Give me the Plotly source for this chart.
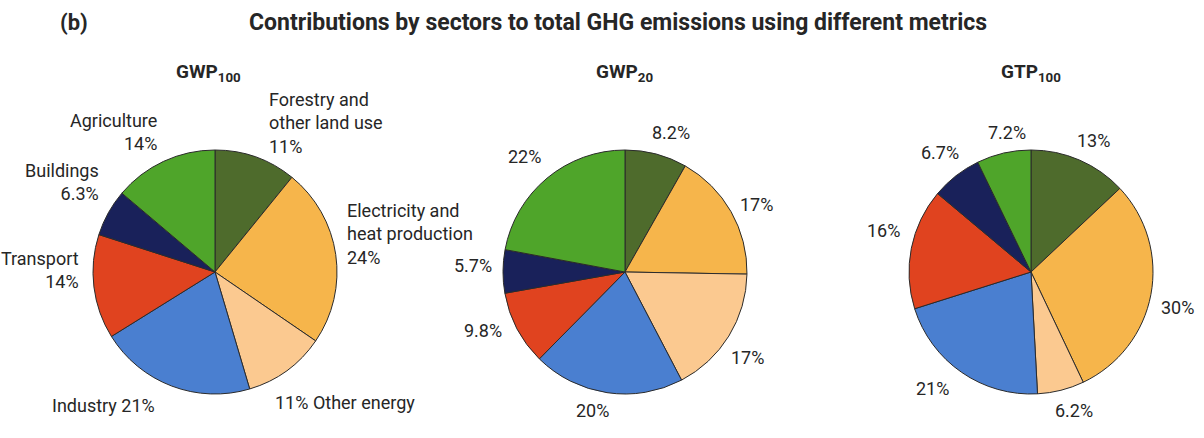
import plotly.graph_objects as go

W, H = 1204, 438

sectors = ["Forestry and other land use", "Electricity and heat production", "Other energy",
           "Industry", "Transport", "Buildings", "Agriculture"]
colors = ["#4e6b2c", "#f6b54b", "#fbc990", "#4a7fd0", "#e0431f", "#19215a", "#4fa52a"]

gwp100 = [11, 24, 11, 21, 14, 6.3, 14]
gwp20 = [8.2, 17, 17, 20, 9.8, 5.7, 22]
gtp100 = [13, 30, 6.2, 21, 16, 6.7, 7.2]

metrics = ["GWP<sub>100</sub>", "GWP<sub>20</sub>", "GTP<sub>100</sub>"]
main_title = "Contributions by sectors to total GHG emissions using different metrics"

# pie centres in pixels and radius
centres = [(215, 272), (625, 272), (1031, 272)]
R = 122

fig = go.Figure()
for vals, (cx, cy) in zip([gwp100, gwp20, gtp100], centres):
    fig.add_trace(go.Pie(
        labels=sectors, values=vals, sort=False, direction="clockwise", rotation=0,
        marker=dict(colors=colors, line=dict(color="#2b2b2b", width=1)),
        textinfo="none", textposition="none", showlegend=False, hoverinfo="label+value",
        domain=dict(x=[(cx - R) / W, (cx + R) / W], y=[(H - cy - R) / H, (H - cy + R) / H]),
    ))

FONT = "Roboto"
TXT = "#262626"

def ann(text, x, y, xanchor="center", size=18, bold=False, align="left"):
    fig.add_annotation(text=text, x=x / W, y=1 - y / H, xref="paper", yref="paper",
                       xanchor=xanchor, yanchor="middle", showarrow=False, align=align,
                       font=dict(family=FONT, size=size, color=TXT,
                                 weight="bold" if bold else "normal"))

def pct(v):
    return f"{v:g}%"

# headers
ann("(b)", 74, 22, size=22, bold=True)
ann(main_title, 618, 22, size=23, bold=True)
for m, xc in zip(metrics, [208, 624, 1031]):
    ann(m, xc, 72, size=19, bold=True)

# GWP100 labels
ann(f"Forestry and<br>other land use<br>{pct(gwp100[0])}", 267, 123, xanchor="left", align="left")
ann(f"Electricity and<br>heat production<br>{pct(gwp100[1])}", 345, 234, xanchor="left", align="left")
ann(f"{pct(gwp100[2])} Other energy", 273, 402, xanchor="left")
ann(f"Industry {pct(gwp100[3])}", 50, 405, xanchor="left")
ann(f"Transport<br>{pct(gwp100[4])}", 81, 270, xanchor="right", align="right")
ann(f"Buildings<br>{pct(gwp100[5])}", 101, 182, xanchor="right", align="right")
ann(f"Agriculture<br>{pct(gwp100[6])}", 159, 132, xanchor="right", align="right")

# GWP20 labels
pos20 = [(671, 132), (756, 205), (747, 357), (592, 410), (483, 330), (473, 265), (524, 157)]
for v, (x, y) in zip(gwp20, pos20):
    ann(pct(v), x, y)

# GTP100 labels
pos100 = [(1093, 140), (1177, 307), (1074, 410), (932, 388), (883, 230), (940, 152), (1007, 132)]
for v, (x, y) in zip(gtp100, pos100):
    ann(pct(v), x, y)

fig.update_layout(width=W, height=H, margin=dict(l=0, r=0, t=0, b=0),
                  paper_bgcolor="white", plot_bgcolor="white")
fig.write_html("out.html")
